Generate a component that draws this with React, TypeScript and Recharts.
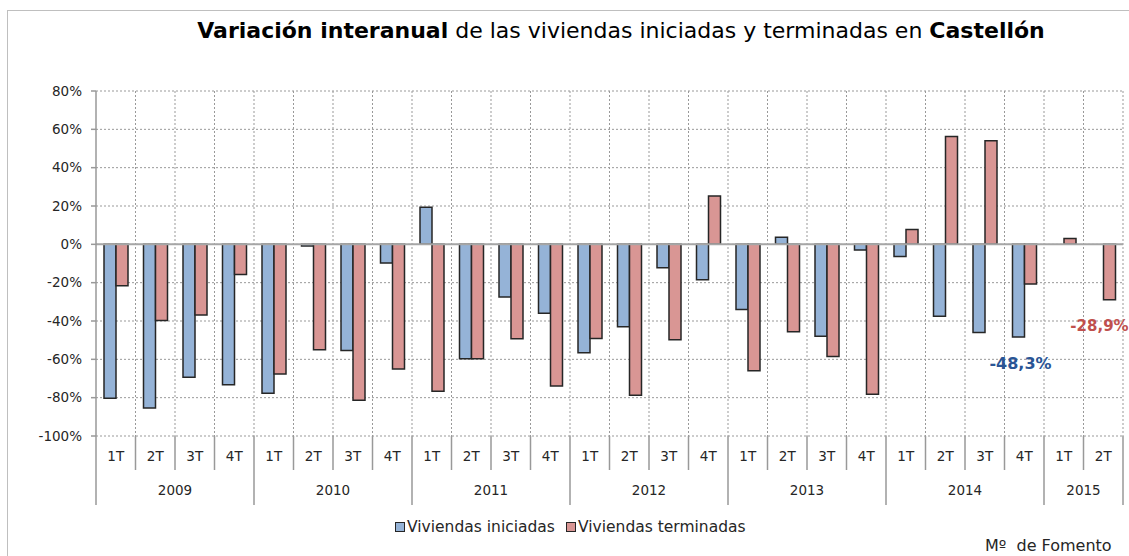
import React from 'react';
import { BarChart, Bar, XAxis, YAxis, CartesianGrid, ReferenceLine, LabelList } from 'recharts';

const quarters = ['1T','2T','3T','4T','1T','2T','3T','4T','1T','2T','3T','4T','1T','2T','3T','4T','1T','2T','3T','4T','1T','2T','3T','4T','1T','2T'];
const years = ['2009','2010','2011','2012','2013','2014','2015'];
const quartersPerYear = [4,4,4,4,4,4,2];
const iniciadas: (number | null)[] = [-80.3,-85.4,-69.3,-73.3, -77.7,-0.9,-55.4,-9.8, 19.3,-59.7,-27.5,-35.9, -56.6,-43.0,-12.2,-18.5, -34.0,3.7,-47.9,-3.0, -6.4,-37.5,-46.0,-48.3, null,null];
const terminadas: (number | null)[] = [-21.6,-39.7,-36.9,-15.7, -67.6,-55.0,-81.4,-65.0, -76.7,-59.7,-49.3,-73.9, -49.1,-78.7,-49.8,25.2, -65.9,-45.6,-58.5,-78.2, 7.8,56.2,54.1,-20.7, 3.1,-28.9];
const yTicks = [-100,-80,-60,-40,-20,0,20,40,60,80];
const labelIniciadasIndex = 23;
const labelTerminadasIndex = 25;

const data = quarters.map((q, i) => ({ q, ini: iniciadas[i], ter: terminadas[i] }));

const yearStart: number[] = [];
{
  let s = 0;
  quartersPerYear.forEach((n) => { yearStart.push(s); s += n; });
}

const W = 1129;
const H = 556;
const PLOT_LEFT = 96;
const PLOT_RIGHT = 1123;
const PLOT_TOP = 91;
const PLOT_BOTTOM = 436;
const BAND = (PLOT_RIGHT - PLOT_LEFT) / quarters.length;
const FONT = '"DejaVu Sans", sans-serif';

const XTick = (props: any) => {
  const { x, index } = props;
  const left = x - BAND / 2;
  const yIdx = yearStart.indexOf(index);
  const isYearStart = yIdx >= 0;
  const isLast = index === quarters.length - 1;
  return (
    <g>
      <line x1={left} x2={left} y1={PLOT_BOTTOM} y2={isYearStart ? 505 : 470} stroke="#999" strokeWidth={1.5} />
      {isLast && <line x1={left + BAND} x2={left + BAND} y1={PLOT_BOTTOM} y2={505} stroke="#999" strokeWidth={1.5} />}
      <text x={x} y={461} textAnchor="middle" fontSize={13.5} fill="#262626" fontFamily={FONT}>{quarters[index]}</text>
      {isYearStart && (
        <text x={left + (quartersPerYear[yIdx] * BAND) / 2} y={495} textAnchor="middle" fontSize={13.5} fill="#262626" fontFamily={FONT}>{years[yIdx]}</text>
      )}
    </g>
  );
};

const makeLabel = (target: number, color: string, dx: number, dy: number, size: number) => (props: any) => {
  const { x, y, width, height, index, value } = props;
  if (index !== target || value == null) return null;
  const bottom = Math.max(y, y + height);
  return (
    <text x={x + width / 2 + dx} y={bottom + dy} textAnchor="middle" fontSize={size} fontWeight="bold" fill={color} fontFamily={FONT}>
      {Number(value).toFixed(1).replace('.', ',') + '%'}
    </text>
  );
};

export default function App() {
  return (
    <div style={{ position: 'absolute', left: 0, top: 0, width: W, height: H, overflow: 'hidden', background: '#fff' }}>
      <div style={{ position: 'absolute', left: 7, top: 10, width: W, height: H, border: '1px solid #bfbfbf', boxSizing: 'border-box' }} />
      <div style={{ position: 'absolute', left: 0, width: 1242, top: 18, textAlign: 'center', fontFamily: FONT, fontSize: 22, color: '#000', whiteSpace: 'nowrap' }}>
        <b>Variación interanual</b> de las viviendas iniciadas y terminadas en <b>Castellón</b>
      </div>
      <div style={{ position: 'absolute', left: 0, top: 0 }}>
        <BarChart
          width={W}
          height={H}
          data={data}
          margin={{ top: PLOT_TOP, right: W - PLOT_RIGHT, bottom: H - PLOT_BOTTOM - 120, left: 16 }}
          barGap={0}
          barSize={12}
        >
          <CartesianGrid
            stroke="#999"
            strokeDasharray="2 2"
            verticalCoordinatesGenerator={() => quarters.map((_, i) => PLOT_LEFT + BAND * (i + 1))}
          />
          <YAxis
            domain={[-100, 80]}
            ticks={yTicks}
            interval={0}
            width={80}
            tickFormatter={(v: number) => `${v}%`}
            tick={{ fontSize: 13.5, fill: '#262626', fontFamily: FONT }}
            axisLine={{ stroke: '#999', strokeWidth: 1.5 }}
            tickLine={{ stroke: '#999', strokeWidth: 1.5 }}
            tickSize={5}
            tickMargin={9}
          />
          <XAxis dataKey="q" axisLine={false} tickLine={false} interval={0} height={120} tick={<XTick />} />
          <ReferenceLine y={0} stroke="#a6a6a6" strokeWidth={2} />
          <Bar dataKey="ini" fill="#95B3D7" stroke="#262626" strokeWidth={1.5} isAnimationActive={false}>
            <LabelList dataKey="ini" content={makeLabel(labelIniciadasIndex, '#2A5596', 2, 32, 16)} />
          </Bar>
          <Bar dataKey="ter" fill="#D99694" stroke="#262626" strokeWidth={1.5} isAnimationActive={false}>
            <LabelList dataKey="ter" content={makeLabel(labelTerminadasIndex, '#C0504D', -10, 31, 15)} />
          </Bar>
        </BarChart>
      </div>
      <div style={{ position: 'absolute', left: 395, top: 518, fontFamily: FONT, fontSize: 15.5, color: '#262626', display: 'flex', alignItems: 'center', whiteSpace: 'nowrap' }}>
        <span style={{ display: 'inline-block', width: 8, height: 8, background: '#95B3D7', border: '1px solid #262626', marginRight: 2 }} />
        <span>Viviendas iniciadas</span>
      </div>
      <div style={{ position: 'absolute', left: 566, top: 518, fontFamily: FONT, fontSize: 15.5, color: '#262626', display: 'flex', alignItems: 'center', whiteSpace: 'nowrap' }}>
        <span style={{ display: 'inline-block', width: 8, height: 8, background: '#D99694', border: '1px solid #262626', marginRight: 2 }} />
        <span>Viviendas terminadas</span>
      </div>
      <div style={{ position: 'absolute', left: 985, top: 536, fontFamily: FONT, fontSize: 16, color: '#262626', whiteSpace: 'pre' }}>
        {'Mº  de Fomento'}
      </div>
    </div>
  );
}
